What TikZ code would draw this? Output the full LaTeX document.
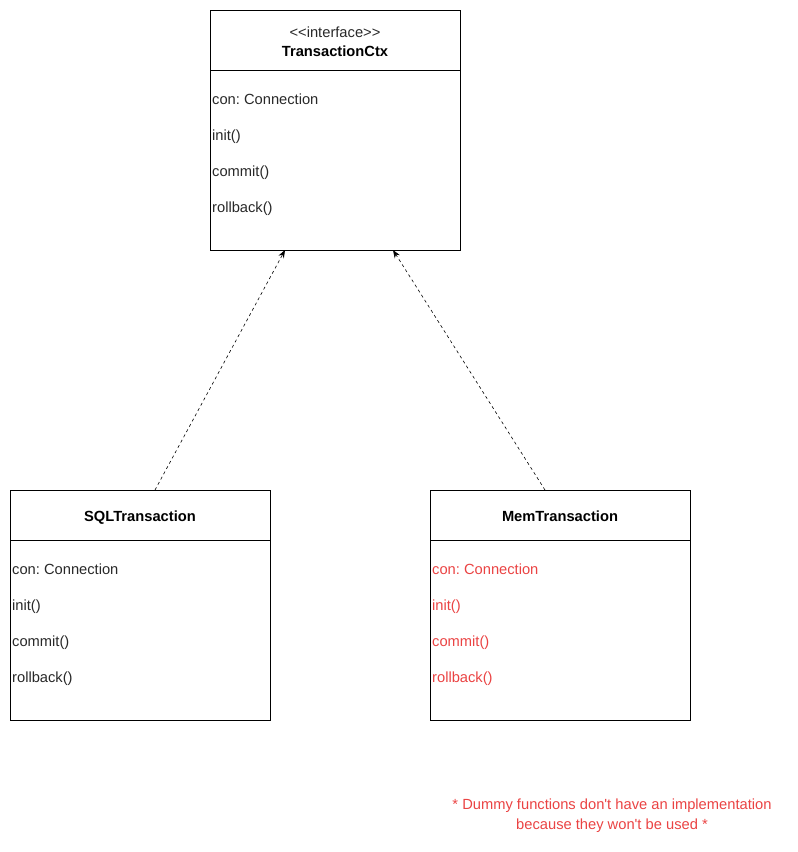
\documentclass[tikz,border=0pt]{standalone}
\usepackage{fontspec}
\setmainfont{Liberation Sans}[Ligatures=ResetAll]
\usetikzlibrary{arrows.meta}
\definecolor{dummyred}{RGB}{234,67,67}
\definecolor{txt}{RGB}{40,40,40}
\begin{document}
\frenchspacing
\begin{tikzpicture}[x=1pt,y=-1pt,
  classbox/.style={draw=black, line width=0.8pt, rectangle, minimum width=#1, minimum height=230pt, inner sep=0pt, anchor=north west},
  fixed/.style={inner sep=0pt, text height=11.5pt, text depth=0pt},
  member/.style={fixed, anchor=west, font=\fontsize{14.7}{17}\selectfont, text=txt},
  title/.style={fixed, font=\fontsize{14.7}{17}\selectfont\bfseries, text=black},
  realizes/.style={dashed, dash pattern=on 3pt off 3pt, line width=0.6pt, -{Stealth[length=8pt,width=6pt]}}
]
\useasboundingbox (0,0) rectangle (798,852);

% interface box
\node[classbox=250pt, minimum height=240pt] (ctx) at (210,10) {};
\draw[line width=0.8pt] (210,70) -- (460,70);
\node[fixed, font=\fontsize{14.7}{17}\selectfont, text=txt] (ctxstereo) at (335,32) {<{}<interface>{}>};
\node[title] (ctxname) at (335,51) {TransactionCtx};
\node[member] (ctxa) at (212,99) {con: Connection};
\node[member] (ctxb) at (212,135) {init()};
\node[member] (ctxc) at (212,171) {commit()};
\node[member] (ctxd) at (212,207) {rollback()};

% SQL implementation
\node[classbox=260pt] (sql) at (10,490) {};
\draw[line width=0.8pt] (10,540) -- (270,540);
\node[title] (sqlname) at (140,516) {SQLTransaction};
\node[member] (sqla) at (12,569) {con: Connection};
\node[member] (sqlb) at (12,605) {init()};
\node[member] (sqlc) at (12,641) {commit()};
\node[member] (sqld) at (12,677) {rollback()};

% in-memory implementation
\node[classbox=260pt] (mem) at (430,490) {};
\draw[line width=0.8pt] (430,540) -- (690,540);
\node[title] (memname) at (560,516) {MemTransaction};
\node[member, text=dummyred] (mema) at (432,569) {con: Connection};
\node[member, text=dummyred] (memb) at (432,605) {init()};
\node[member, text=dummyred] (memc) at (432,641) {commit()};
\node[member, text=dummyred] (memd) at (432,677) {rollback()};

% realization arrows
\coordinate (sqlout) at (155,490);
\coordinate (memout) at (545,490);
\coordinate (ctxinl) at (285,250);
\coordinate (ctxinr) at (393,250);
\draw[realizes] (sqlout) -- (ctxinl);
\draw[realizes] (memout) -- (ctxinr);

% note
\node[align=center, inner sep=0pt, text=dummyred, font=\fontsize{14.7}{20}\selectfont] (note) at (612,816)
  {* Dummy functions don\textquotesingle t have an implementation\\because they won\textquotesingle t be used *};
\end{tikzpicture}
\end{document}
